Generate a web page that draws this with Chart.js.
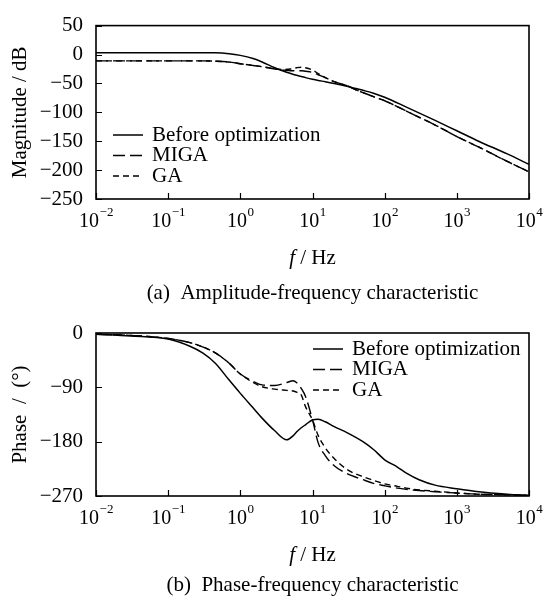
<!DOCTYPE html>
<html><head><meta charset="utf-8">
<script src="https://cdn.jsdelivr.net/npm/chart.js@4/dist/chart.umd.min.js"></script>
<style>html,body{margin:0;padding:0;background:#fff;} body{position:relative;width:544px;height:598px;overflow:hidden;} canvas{display:block;position:absolute;left:0;}</style>
</head><body>
<canvas id="c1" width="544" height="310" style="top:0"></canvas>
<canvas id="c2" width="544" height="298" style="top:300px"></canvas>
<script>
// ---------- DATA ----------
const seriesNames = ['Before optimization', 'MIGA', 'GA'];

// (a) Amplitude-frequency
const magFreq   = [0.01, 0.1, 0.3, 0.45, 0.7, 1, 1.5, 2, 3, 4, 5, 6, 7, 8, 10, 12, 15, 20, 30, 40, 50, 70, 100, 200, 500, 1000, 2000, 5000, 10000];
const magBefore = [3, 3, 3, 3, 1.5, -1.5, -7, -13, -23, -29, -33, -36, -38, -40, -43, -45, -47, -50, -55, -59, -62, -67, -74, -91, -114, -132, -150, -172, -190];
const magMIGA   = [-11, -11, -11, -11.5, -13, -16, -19, -21, -25, -27, -28, -28, -28, -29, -31, -35, -40, -47, -54, -61, -66, -73, -80, -98, -122, -142, -160, -185, -203];
const magGA     = [-11, -11, -11, -11.5, -13, -16, -19, -21, -25, -26, -25, -23, -22, -23, -27, -33, -40, -47, -54, -61, -66, -73, -80, -98, -122, -142, -160, -185, -203];

// (b) Phase-frequency
const phaseFreq   = [0.01, 0.03, 0.1, 0.2, 0.3, 0.45, 0.7, 1, 1.5, 2, 3, 4.4, 5.4, 6, 7, 8, 10, 12, 15, 20, 30, 50, 70, 100, 150, 200, 300, 500, 1000, 2000, 5000, 10000];
const phaseBefore = [-2, -5, -10, -22, -33, -50, -78, -100, -124, -141, -162, -177, -170, -164, -157, -152, -144, -143, -147, -155, -165, -180, -193, -210, -222, -232, -243, -252, -258, -263, -267, -269];
const phaseMIGA   = [-2, -4, -9, -16, -23, -33, -50, -68, -80, -86, -87, -82, -79, -82, -92, -105, -144, -182, -203, -220, -233, -243, -249, -253, -257, -259, -261, -263, -265, -267, -268, -269];
const phaseGA     = [-2, -4, -9, -16, -23, -33, -50, -68, -82, -89, -93, -95, -96, -98, -103, -122, -144, -170, -190, -208, -226, -238, -244, -250, -254, -257, -260, -262, -265, -267, -268, -269];

// Tick labels
const xTickValues = [0.01, 0.1, 1, 10, 100, 1000, 10000];
const xTickExponents = ['\u22122', '\u22121', '0', '1', '2', '3', '4'];
const magTickValues = [50, 0, -50, -100, -150, -200, -250];
const magTickLabels = ['50', '0', '\u221250', '\u2212100', '\u2212150', '\u2212200', '\u2212250'];
const phaseTickValues = [0, -90, -180, -270];
const phaseTickLabels = ['0', '\u221290', '\u2212180', '\u2212270'];

// ---------- STYLE ----------
const FONT = '"Liberation Serif", "Times New Roman", serif';
const styles = [
  { borderDash: [], borderWidth: 1.5 },
  { borderDash: [12, 5], borderWidth: 1.4 },
  { borderDash: [6, 4], borderWidth: 1.4 }
];

function makeDatasets(freq, arrays) {
  return arrays.map((arr, i) => ({
    label: seriesNames[i],
    data: freq.map((f, j) => ({ x: f, y: arr[j] })),
    borderColor: '#000',
    borderWidth: styles[i].borderWidth,
    borderDash: styles[i].borderDash,
    pointRadius: 0,
    fill: false,
    cubicInterpolationMode: 'monotone'
  }));
}

const decor = {
  id: 'decor',
  afterDraw(chart, args, opts) {
    const ctx = chart.ctx;
    const ca = chart.chartArea;
    const xs = chart.scales.x, ys = chart.scales.y;
    ctx.save();
    // frame
    ctx.strokeStyle = '#000';
    ctx.lineWidth = 1.6;
    ctx.setLineDash([]);
    ctx.strokeRect(ca.left, ca.top, ca.right - ca.left, ca.bottom - ca.top);
    // inward ticks
    ctx.lineWidth = 1.2;
    ctx.beginPath();
    xTickValues.forEach(v => {
      const px = Math.round(xs.getPixelForValue(v)) + 0.5;
      ctx.moveTo(px, ca.bottom);
      ctx.lineTo(px, ca.bottom - 6);
    });
    opts.yTicks.forEach(v => {
      const py = Math.round(ys.getPixelForValue(v)) + 0.5;
      ctx.moveTo(ca.left, py);
      ctx.lineTo(ca.left + 6, py);
    });
    ctx.stroke();
    // x tick labels with superscripts
    ctx.fillStyle = '#000';
    ctx.textBaseline = 'middle';
    ctx.textAlign = 'left';
    xTickValues.forEach((v, i) => {
      const px = xs.getPixelForValue(v);
      ctx.font = '20px ' + FONT;
      const wb = ctx.measureText('10').width;
      ctx.font = '13px ' + FONT;
      const we = ctx.measureText(xTickExponents[i]).width;
      const x0 = px - (wb + we) / 2;
      ctx.font = '20px ' + FONT;
      ctx.fillText('10', x0, ca.bottom + 23);
      ctx.font = '13px ' + FONT;
      ctx.fillText(xTickExponents[i], x0 + wb + 0.5, ca.bottom + 14);
    });
    // x axis title: f / Hz
    const cx = (ca.left + ca.right) / 2;
    ctx.font = 'italic 21px ' + FONT;
    const wf = ctx.measureText('f').width;
    ctx.font = '21px ' + FONT;
    const wr = ctx.measureText(' / Hz').width;
    const tx0 = cx - (wf + wr) / 2;
    ctx.font = 'italic 21px ' + FONT;
    ctx.fillText('f', tx0, ca.bottom + 59);
    ctx.font = '21px ' + FONT;
    ctx.fillText(' / Hz', tx0 + wf, ca.bottom + 59);
    // caption
    ctx.textAlign = 'center';
    ctx.font = '21px ' + FONT;
    ctx.fillText(opts.caption, cx, opts.captionY);
    // y title
    ctx.save();
    ctx.translate(20, (ca.top + ca.bottom) / 2);
    ctx.rotate(-Math.PI / 2);
    ctx.textAlign = 'center';
    ctx.fillText(opts.yTitle, 0, 0);
    ctx.restore();
    // legend
    ctx.textAlign = 'left';
    chart.data.datasets.forEach((ds, i) => {
      const y = opts.legend.y + i * opts.legend.gap;
      ctx.beginPath();
      ctx.lineWidth = ds.borderWidth;
      ctx.setLineDash(ds.borderDash);
      ctx.moveTo(opts.legend.x, y);
      ctx.lineTo(opts.legend.x + 30, y);
      ctx.stroke();
      ctx.setLineDash([]);
      ctx.fillText(ds.label, opts.legend.x + 39, y);
    });
    ctx.restore();
  }
};

function makeChart(id, freq, arrays, yMin, yMax, step, tickValues, tickLabels, padTop, plotBottom, canvasH, decorOpts) {
  return new Chart(document.getElementById(id), {
    type: 'line',
    data: { datasets: makeDatasets(freq, arrays) },
    plugins: [decor],
    options: {
      responsive: false,
      animation: false,
      devicePixelRatio: 1,
      layout: { padding: { top: padTop, right: 15, left: 0, bottom: 0 } },
      plugins: { legend: { display: false }, tooltip: { enabled: false }, decor: decorOpts },
      scales: {
        x: {
          type: 'logarithmic', min: 0.01, max: 10000,
          grid: { display: false }, border: { display: false },
          ticks: { display: false },
          afterFit: s => { s.height = canvasH - plotBottom; }
        },
        y: {
          type: 'linear', min: yMin, max: yMax,
          grid: { display: false, drawTicks: false }, border: { display: false },
          ticks: {
            stepSize: step, padding: 13, color: '#000',
            font: { family: FONT, size: 21 },
            callback: v => { const k = tickValues.indexOf(v); return k >= 0 ? tickLabels[k] : ''; }
          },
          afterFit: s => { s.width = 96; }
        }
      }
    }
  });
}

makeChart('c1', magFreq, [magBefore, magMIGA, magGA], -250, 50, 50, magTickValues, magTickLabels, 15, 199, 310, {
  yTicks: magTickValues, yTitle: 'Magnitude / dB',
  caption: '(a)  Amplitude-frequency characteristic', captionY: 293,
  legend: { x: 113, y: 135, gap: 20.5 }
});
makeChart('c2', phaseFreq, [phaseBefore, phaseMIGA, phaseGA], -270, 0, 90, phaseTickValues, phaseTickLabels, 33, 196, 298, {
  yTicks: phaseTickValues, yTitle: 'Phase  /  (\u00b0)',
  caption: '(b)  Phase-frequency characteristic', captionY: 285,
  legend: { x: 313, y: 49, gap: 20.5 }
});
</script>
</body></html>
